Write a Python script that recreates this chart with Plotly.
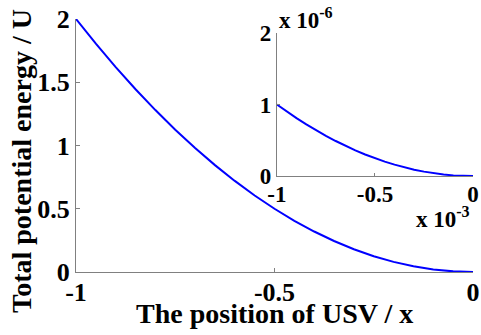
import plotly.graph_objects as go

# Main curve: position x and total potential energy U
x_main = [-1.0, -0.95, -0.9, -0.85, -0.8, -0.75, -0.7, -0.65, -0.6, -0.55, -0.5,
          -0.45, -0.4, -0.35, -0.3, -0.25, -0.2, -0.15, -0.1, -0.05, 0.0]
u_main = [2.0, 1.805, 1.62, 1.445, 1.28, 1.125, 0.98, 0.845, 0.72, 0.605, 0.5,
          0.405, 0.32, 0.245, 0.18, 0.125, 0.08, 0.045, 0.02, 0.005, 0.0]

# Inset curve: x in units of 1e-3, U in units of 1e-6
x_inset = [-1.0, -0.95, -0.9, -0.85, -0.8, -0.75, -0.7, -0.65, -0.6, -0.55, -0.5,
           -0.45, -0.4, -0.35, -0.3, -0.25, -0.2, -0.15, -0.1, -0.05, 0.0]
u_inset = [1.0, 0.9025, 0.81, 0.7225, 0.64, 0.5625, 0.49, 0.4225, 0.36, 0.3025, 0.25,
           0.2025, 0.16, 0.1225, 0.09, 0.0625, 0.04, 0.0225, 0.01, 0.0025, 0.0]

main_xticks = [-1, -0.5, 0]
main_xtext = ["-1", "-0.5", "0"]
main_yticks = [0, 0.5, 1, 1.5, 2]
main_ytext = ["0", "0.5", "1", "1.5", "2"]
inset_xticks = [-1, -0.5, 0]
inset_xtext = ["-1", "-0.5", "0"]
inset_yticks = [0, 1, 2]
inset_ytext = ["0", "1", "2"]

FONT = "Liberation Serif, Times New Roman, serif"
BLUE = "#0000FF"
AX = "#808080"

fig = go.Figure()
fig.add_trace(go.Scatter(x=x_main, y=u_main, mode="lines",
                         line=dict(color=BLUE, width=2), showlegend=False,
                         xaxis="x", yaxis="y"))
fig.add_trace(go.Scatter(x=x_inset, y=u_inset, mode="lines",
                         line=dict(color=BLUE, width=2), showlegend=False,
                         xaxis="x2", yaxis="y2"))

tickfont_main = dict(family=FONT, size=26, color="black", weight="bold")
tickfont_inset = dict(family=FONT, size=23, color="black", weight="bold")

common = dict(showgrid=False, zeroline=False, showline=True, linecolor=AX, linewidth=1,
              tickcolor=AX, ticks="inside", automargin=False, ticklabeloverflow="allow")

fig.update_layout(
    width=481, height=335,
    margin=dict(l=76, r=8, t=19, b=63),
    font=dict(family=FONT, color="black"),
    paper_bgcolor="white", plot_bgcolor="white",
    xaxis=dict(domain=[0, 1], range=[-1, 0], tickvals=main_xticks, ticktext=main_xtext,
               ticklen=4, tickfont=tickfont_main, anchor="y", ticklabelstandoff=-3, **common),
    yaxis=dict(domain=[0, 1], range=[0, 2], tickvals=main_yticks, ticktext=main_ytext,
               ticklen=4, tickfont=tickfont_main, anchor="x", ticklabelstandoff=0, **common),
    xaxis2=dict(domain=[0.506, 1.0], range=[-1, 0], tickvals=inset_xticks, ticktext=inset_xtext,
                ticklen=3, tickfont=tickfont_inset, anchor="y2", ticklabelstandoff=-3, **common),
    yaxis2=dict(domain=[0.379, 0.945], range=[0, 2], tickvals=inset_yticks, ticktext=inset_ytext,
                ticklen=3, tickfont=tickfont_inset, anchor="x2", ticklabelstandoff=0, **common),
)

title_font = dict(family=FONT, size=28, color="black", weight="bold")
fig.add_annotation(text="The position of USV / x", xref="paper", yref="paper",
                   x=0.501, y=-0.166, xanchor="center", yanchor="middle",
                   showarrow=False, font=title_font)
fig.add_annotation(text="Total potential energy / U", xref="paper", yref="paper",
                   x=-0.136, y=0.439, xanchor="center", yanchor="middle", textangle=-90,
                   showarrow=False, font=title_font)

exp_font = dict(family=FONT, size=23, color="black", weight="bold")
fig.add_annotation(text="x 10<sup>-6</sup>", xref="paper", yref="paper",
                   x=0.507, y=0.935, xanchor="left", yanchor="bottom",
                   showarrow=False, font=exp_font)
fig.add_annotation(text="x 10<sup>-3</sup>", xref="paper", yref="paper",
                   x=0.997, y=0.150, xanchor="right", yanchor="bottom",
                   showarrow=False, font=exp_font)

# Remove the browser's default page margin so the figure fills the window exactly.
fig.write_html("out.html",
               config={"displayModeBar": False},
               post_script="document.body.style.margin='0';document.body.style.overflow='hidden';")
